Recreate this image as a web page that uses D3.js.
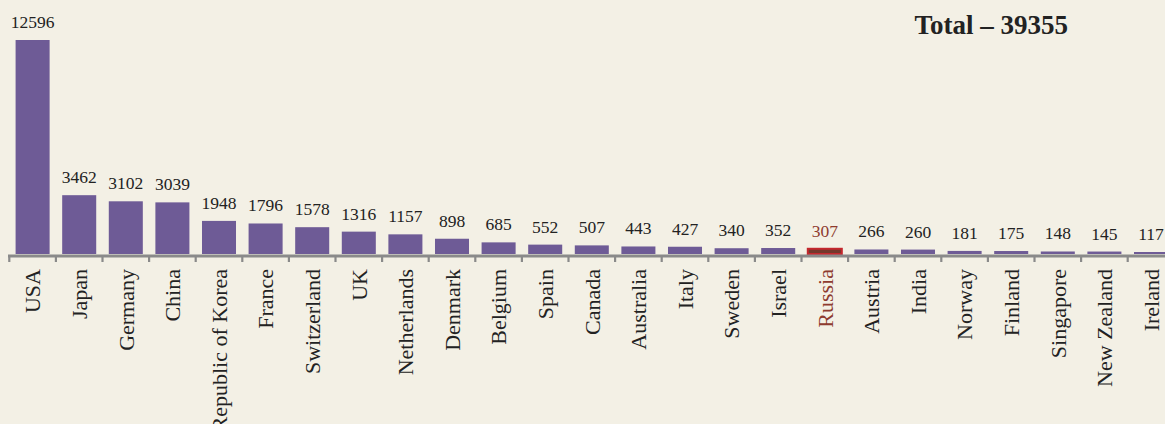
<!DOCTYPE html>
<html>
<head>
<meta charset="utf-8">
<script src="https://cdn.jsdelivr.net/npm/d3@7/dist/d3.min.js"></script>
<style>
  html, body { margin: 0; padding: 0; background: #f3f0e5; }
  svg { display: block; font-family: "Liberation Serif", "DejaVu Serif", serif; }
</style>
</head>
<body>
<div id="chart"></div>
<script>
const countries = ["USA", "Japan", "Germany", "China", "Republic of Korea", "France", "Switzerland",
  "UK", "Netherlands", "Denmark", "Belgium", "Spain", "Canada", "Australia", "Italy", "Sweden",
  "Israel", "Russia", "Austria", "India", "Norway", "Finland", "Singapore", "New Zealand", "Ireland"];
const values = [12596, 3462, 3102, 3039, 1948, 1796, 1578, 1316, 1157, 898, 685, 552, 507, 443, 427,
  340, 352, 307, 266, 260, 181, 175, 148, 145, 117];
const highlight = "Russia";
const totalLabel = "Total – 39355";

const width = 1165;
const height = 424;
const baseY = 254;

const data = countries.map((c, i) => ({ name: c, value: values[i] }));

const svg = d3.select("#chart")
    .append("svg")
    .attr("width", width)
    .attr("height", height);

svg.append("rect")
    .attr("width", width)
    .attr("height", height)
    .attr("fill", "#f3f0e5");

const xScale = d3.scaleBand()
    .domain(countries)
    .range([9.3, 9.3 + 25 * 46.6])
    .paddingInner(0.27)
    .paddingOuter(0.135);

const yScale = d3.scaleLinear()
    .domain([0, 12596])
    .range([baseY, 40]);

const step = xScale.step();
const half = step * 0.27 / 2;

// bars
svg.selectAll("rect.bar")
    .data(data)
    .enter()
    .append("rect")
    .attr("class", "bar")
    .attr("x", d => xScale(d.name))
    .attr("y", d => yScale(d.value))
    .attr("width", xScale.bandwidth())
    .attr("height", d => baseY - yScale(d.value))
    .attr("fill", d => d.name === highlight ? "#74372b" : "#6e5b96")
    .attr("stroke", d => d.name === highlight ? "#c4272d" : "none")
    .attr("stroke-width", 2);

// axis line and ticks at band boundaries
svg.append("line")
    .attr("x1", 8)
    .attr("x2", width)
    .attr("y1", baseY + 2)
    .attr("y2", baseY + 2)
    .attr("stroke", "#8a8a8a")
    .attr("stroke-width", 3);

svg.selectAll("line.tick")
    .data(data)
    .enter()
    .append("line")
    .attr("class", "tick")
    .attr("x1", d => xScale(d.name) - half)
    .attr("x2", d => xScale(d.name) - half)
    .attr("y1", baseY + 2)
    .attr("y2", baseY + 8)
    .attr("stroke", "#8a8a8a")
    .attr("stroke-width", 2.2);

// value labels
svg.selectAll("text.value")
    .data(data)
    .enter()
    .append("text")
    .attr("class", "value")
    .attr("x", d => xScale(d.name) + xScale.bandwidth() / 2)
    .attr("y", d => yScale(d.value) - 12)
    .attr("text-anchor", "middle")
    .attr("font-size", 17.5)
    .attr("fill", d => d.name === highlight ? "#8e3b2f" : "#222")
    .text(d => d.value);

// category labels
svg.selectAll("text.cat")
    .data(data)
    .enter()
    .append("text")
    .attr("class", "cat")
    .attr("transform", d => "translate(" + (xScale(d.name) + xScale.bandwidth() / 2) + "," + 269 + ") rotate(-90)")
    .attr("dy", "0.35em")
    .attr("text-anchor", "end")
    .attr("font-size", 22)
    .attr("fill", d => d.name === highlight ? "#8e3b2f" : "#222")
    .text(d => d.name);

svg.append("text")
    .attr("x", 1068)
    .attr("y", 34)
    .attr("text-anchor", "end")
    .attr("font-size", 27)
    .attr("font-weight", "bold")
    .attr("fill", "#222")
    .text(totalLabel);
</script>
</body>
</html>
